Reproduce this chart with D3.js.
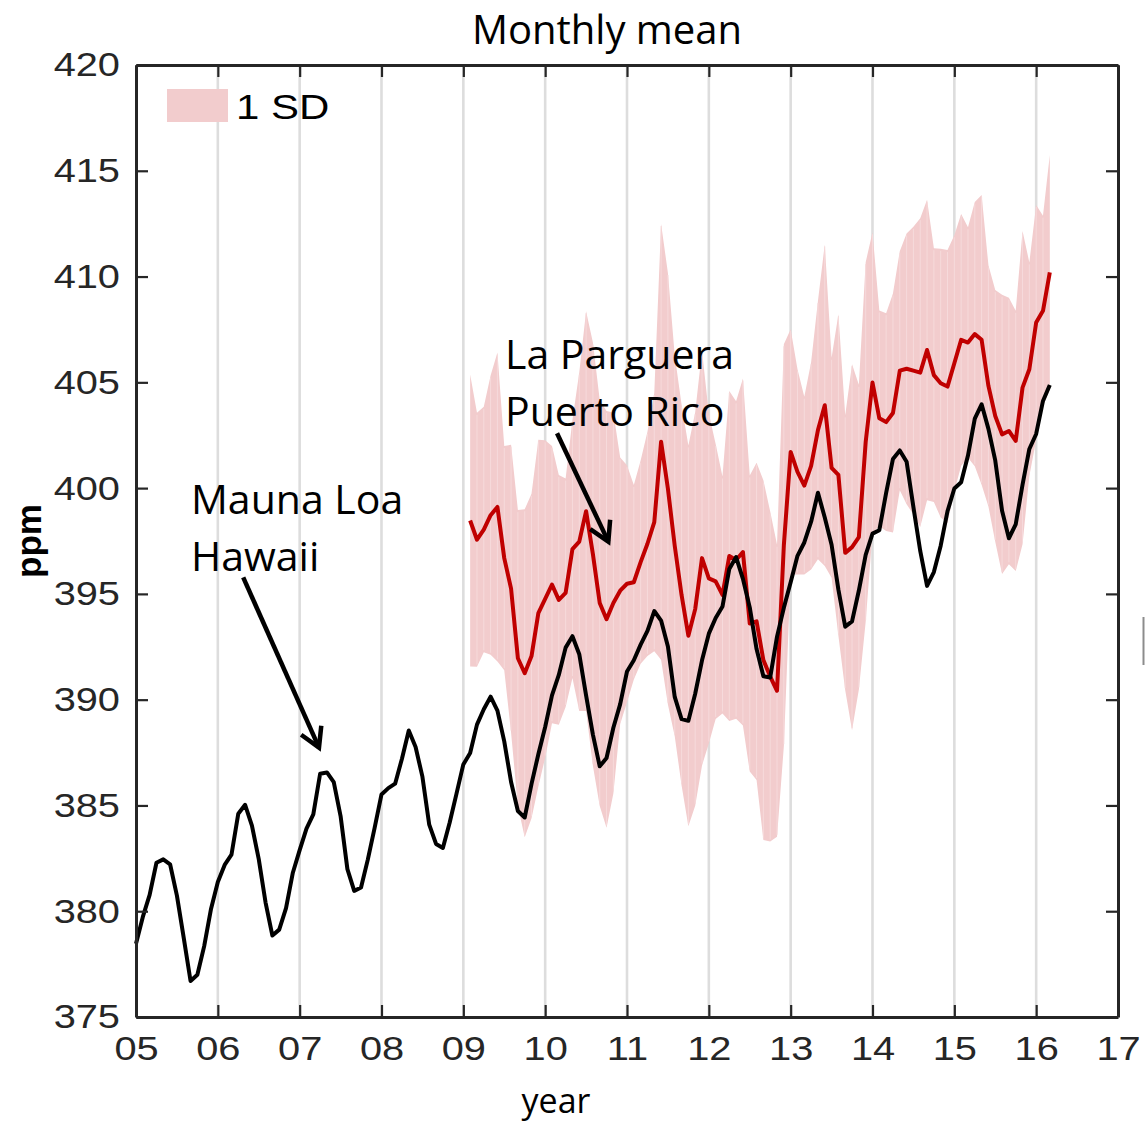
<!DOCTYPE html>
<html>
<head>
<meta charset="utf-8">
<script src="https://cdn.jsdelivr.net/npm/d3@7/dist/d3.min.js"></script>
<style>
  body { margin: 0; background: #fff; }
  svg { display: block; }
</style>
</head>
<body>
<svg width="1145" height="1123"></svg>
<script>
// Mauna Loa monthly mean, Jan 2005 .. Mar 2016 (ppm)
var maunaLoa = [
  378.46, 379.73, 380.77, 382.29, 382.45, 382.22, 380.74, 378.74, 376.70, 377.00, 378.35, 380.11,
  381.38, 382.19, 382.67, 384.61, 385.03, 384.05, 382.46, 380.41, 378.85, 379.13, 380.15, 381.82,
  382.89, 383.90, 384.58, 386.50, 386.56, 386.10, 384.50, 381.99, 380.96, 381.12, 382.45, 383.95,
  385.52, 385.82, 386.03, 387.21, 388.54, 387.76, 386.36, 384.09, 383.18, 382.99, 384.19, 385.56,
  386.94, 387.48, 388.82, 389.55, 390.14, 389.48, 388.03, 386.11, 384.74, 384.43, 386.02, 387.42,
  388.71, 390.20, 391.17, 392.46, 393.00, 392.15, 390.20, 388.35, 386.85, 387.24, 388.67, 389.79,
  391.33, 391.86, 392.60, 393.25, 394.19, 393.74, 392.51, 390.13, 389.08, 389.00, 390.28, 391.86,
  393.12, 393.86, 394.40, 396.18, 396.74, 395.71, 394.36, 392.39, 391.11, 391.05, 392.98, 394.34,
  395.55, 396.80, 397.43, 398.41, 399.78, 398.61, 397.32, 395.20, 393.45, 393.70, 395.16, 396.84,
  397.85, 398.01, 399.77, 401.38, 401.78, 401.25, 399.10, 397.03, 395.38, 396.03, 397.28, 398.91,
  399.98, 400.28, 401.54, 403.28, 403.96, 402.80, 401.31, 398.93, 397.63, 398.29, 400.16, 401.85,
  402.56, 404.12, 404.87
];
var maunaLoaStart = 5;          // year 2005, first month

// La Parguera monthly mean, Feb 2009 .. Mar 2016 (ppm)
var parguera = [
  398.47, 397.56, 398.04, 398.72, 399.11, 396.69, 395.25, 391.96, 391.25, 392.06, 394.09,
  394.76, 395.44, 394.72, 395.05, 397.12, 397.47, 398.91, 396.88, 394.57, 393.80, 394.57, 395.15,
  395.48, 395.55, 396.50, 397.37, 398.39, 402.19, 399.97, 397.27, 394.95, 393.02, 394.28, 396.69,
  395.73, 395.59, 394.95, 396.79, 396.60, 396.98, 393.60, 393.70, 391.87, 391.09, 390.42, 397.30,
  401.71, 400.77, 400.12, 401.05, 402.74, 403.92, 400.96, 400.62, 396.94, 397.21, 397.68, 402.18,
  404.99, 403.30, 403.12, 403.55, 405.55, 405.64, 405.55, 405.46, 406.53, 405.34, 404.96, 404.80,
  405.90, 407.01, 406.88, 407.28, 407.01, 404.83, 403.41, 402.54, 402.70, 402.23, 404.75, 405.62,
  407.83, 408.38, 410.20
];
// one standard deviation of the La Parguera monthly values (ppm)
var pargueraSD = [
  6.9, 6.0, 5.8, 6.6, 7.3, 5.3, 6.8, 7.0, 7.75, 7.67, 8.2,
  7.5, 6.55, 5.9, 5.4, 6.1, 8.0, 9.45, 10.0, 9.6, 9.85, 9.0, 6.3,
  5.6, 4.6, 4.8, 5.3, 6.1, 10.3, 10.2, 9.0, 9.0, 9.0, 9.3, 9.8,
  7.8, 6.5, 5.6, 7.8, 7.5, 8.2, 7.0, 7.5, 8.5, 7.8, 6.9, 9.5,
  5.8, 4.85, 4.2, 4.9, 6.1, 7.6, 5.2, 7.6, 6.5, 8.65, 7.2, 8.5,
  7.1, 5.1, 5.15, 5.65, 5.65, 6.4, 6.8, 7.3, 7.1, 6.0, 6.35, 6.45,
  6.05, 5.95, 5.45, 6.25, 6.85, 5.7, 5.95, 6.6, 6.3, 6.15, 7.4, 5.05,
  5.55, 4.5, 5.55
];
var pargueraStart = 9 + 1 / 12; // Feb 2009

var xTicks = [5, 6, 7, 8, 9, 10, 11, 12, 13, 14, 15, 16, 17];
var xTickLabels = ["05", "06", "07", "08", "09", "10", "11", "12", "13", "14", "15", "16", "17"];
var yTicks = [375, 380, 385, 390, 395, 400, 405, 410, 415, 420];

var svg = d3.select("svg"),
    margin = {top: 65, right: 27, bottom: 106, left: 136},
    width = +svg.attr("width"),
    height = +svg.attr("height");

var x = d3.scaleLinear()
    .domain([5, 17])
    .range([margin.left, width - margin.right]);

var y = d3.scaleLinear()
    .domain([375, 420])
    .range([height - margin.bottom, margin.top]);

var axisColor = "#262626";
var arial = "'Liberation Sans', Arial, sans-serif";
var sans = "'Open Sans', 'Noto Sans', sans-serif";

var ml = maunaLoa.map(function(v, i) { return {t: maunaLoaStart + i / 12, v: v}; });
var lp = parguera.map(function(v, i) { return {t: pargueraStart + i / 12, v: v, sd: pargueraSD[i]}; });

// vertical grid
svg.append("g")
  .selectAll("line")
  .data(xTicks.slice(1, -1))
  .enter().append("line")
    .attr("x1", function(d) { return x(d); })
    .attr("x2", function(d) { return x(d); })
    .attr("y1", y(420))
    .attr("y2", y(375))
    .attr("stroke", "#dddddd")
    .attr("stroke-width", 2.6);

// 1 SD band
svg.append("path")
    .datum(lp)
    .attr("fill", "#f2cccd")
    .attr("d", d3.area()
      .x(function(d) { return x(d.t); })
      .y0(function(d) { return y(d.v - d.sd); })
      .y1(function(d) { return y(d.v + d.sd); }));

// faint seams between the band patches
svg.append("g")
  .selectAll("line")
  .data(lp.slice(1, -1))
  .enter().append("line")
    .attr("x1", function(d) { return x(d.t); })
    .attr("x2", function(d) { return x(d.t); })
    .attr("y1", function(d) { return y(d.v + d.sd) + 2; })
    .attr("y2", function(d) { return y(d.v - d.sd) - 2; })
    .attr("stroke", "#f6dadb")
    .attr("stroke-width", 1);

var line = d3.line()
    .x(function(d) { return x(d.t); })
    .y(function(d) { return y(d.v); });

svg.append("path")
    .datum(lp)
    .attr("fill", "none")
    .attr("stroke", "#c00000")
    .attr("stroke-width", 4)
    .attr("stroke-linejoin", "round")
    .attr("d", line);

svg.append("path")
    .datum(ml)
    .attr("fill", "none")
    .attr("stroke", "#000")
    .attr("stroke-width", 4)
    .attr("stroke-linejoin", "round")
    .attr("d", line);

// axes (ticks point inwards, box on all four sides)
function styleAxis(g) {
  g.select(".domain").attr("stroke", axisColor).attr("stroke-width", 3);
  g.selectAll(".tick line").attr("stroke", axisColor).attr("stroke-width", 2.2);
  g.selectAll(".tick text")
      .attr("fill", axisColor)
      .style("font-family", arial)
      .style("font-size", "34px")
      .each(function() {
        var w = this.getComputedTextLength();
        d3.select(this).attr("textLength", w * 1.17).attr("lengthAdjust", "spacingAndGlyphs");
      });
}

svg.append("g")
    .attr("transform", "translate(0," + y(375) + ")")
    .call(d3.axisBottom(x).tickValues(xTicks)
      .tickFormat(function(d, i) { return xTickLabels[i]; })
      .tickSizeInner(-12).tickSizeOuter(0).tickPadding(19))
    .call(styleAxis);

svg.append("g")
    .attr("transform", "translate(0," + y(420) + ")")
    .call(d3.axisTop(x).tickValues(xTicks).tickFormat("")
      .tickSizeInner(-12).tickSizeOuter(0))
    .call(styleAxis);

svg.append("g")
    .attr("transform", "translate(" + x(5) + ",0)")
    .call(d3.axisLeft(y).tickValues(yTicks).tickFormat(d3.format("d"))
      .tickSizeInner(-12).tickSizeOuter(0).tickPadding(16))
    .call(styleAxis);

svg.append("g")
    .attr("transform", "translate(" + x(17) + ",0)")
    .call(d3.axisRight(y).tickValues(yTicks).tickFormat("")
      .tickSizeInner(-12).tickSizeOuter(0))
    .call(styleAxis);

// labels
svg.append("text")
    .attr("x", 607).attr("y", 44)
    .attr("text-anchor", "middle")
    .style("font-family", sans).style("font-size", "40px")
    .text("Monthly mean");

svg.append("text")
    .attr("x", 556).attr("y", 1113)
    .attr("text-anchor", "middle")
    .style("font-family", sans).style("font-size", "34px")
    .text("year");

svg.append("text")
    .attr("transform", "translate(41,541) rotate(-90)")
    .attr("text-anchor", "middle")
    .style("font-family", arial).style("font-size", "35px").style("font-weight", "bold")
    .text("ppm");

// legend
svg.append("rect")
    .attr("x", 167).attr("y", 89).attr("width", 61).attr("height", 33)
    .attr("fill", "#f2cccd");
svg.append("text")
    .attr("x", 236).attr("y", 119)
    .style("font-family", arial).style("font-size", "35px")
    .text("1 SD")
    .each(function() {
      d3.select(this).attr("textLength", this.getComputedTextLength() * 1.2)
        .attr("lengthAdjust", "spacingAndGlyphs");
    });

// annotations with arrows, placed in data coordinates
var notes = [
  {lines: ["Mauna Loa", "Hawaii"], t: 5.672, v: 398.76, from: [6.31, 395.78], to: [7.236, 387.73]},
  {lines: ["La Parguera", "Puerto Rico"], t: 9.509, v: 405.62, from: [10.145, 402.59], to: [10.772, 397.47]}
];

notes.forEach(function(n) {
  n.lines.forEach(function(s, i) {
    svg.append("text")
        .attr("x", x(n.t)).attr("y", y(n.v) + i * 57)
        .style("font-family", sans).style("font-size", "41px")
        .text(s);
  });
  var x0 = x(n.from[0]), y0 = y(n.from[1]),
      x1 = x(n.to[0]), y1 = y(n.to[1]);
  var a = Math.atan2(y0 - y1, x0 - x1), len = 22, spread = Math.PI / 6;
  svg.append("line")
      .attr("x1", x0).attr("y1", y0).attr("x2", x1).attr("y2", y1)
      .attr("stroke", "#000").attr("stroke-width", 4.5);
  svg.append("path")
      .attr("d", "M" + (x1 + len * Math.cos(a - spread)) + "," + (y1 + len * Math.sin(a - spread)) +
                 "L" + x1 + "," + y1 +
                 "L" + (x1 + len * Math.cos(a + spread)) + "," + (y1 + len * Math.sin(a + spread)))
      .attr("fill", "none").attr("stroke", "#000").attr("stroke-width", 4.5);
});

// edge of a neighbouring panel, cut off at the right
svg.append("line")
    .attr("x1", 1143.5).attr("x2", 1143.5).attr("y1", 617).attr("y2", 665)
    .attr("stroke", "#8c8c8c").attr("stroke-width", 2);
</script>
</body>
</html>
